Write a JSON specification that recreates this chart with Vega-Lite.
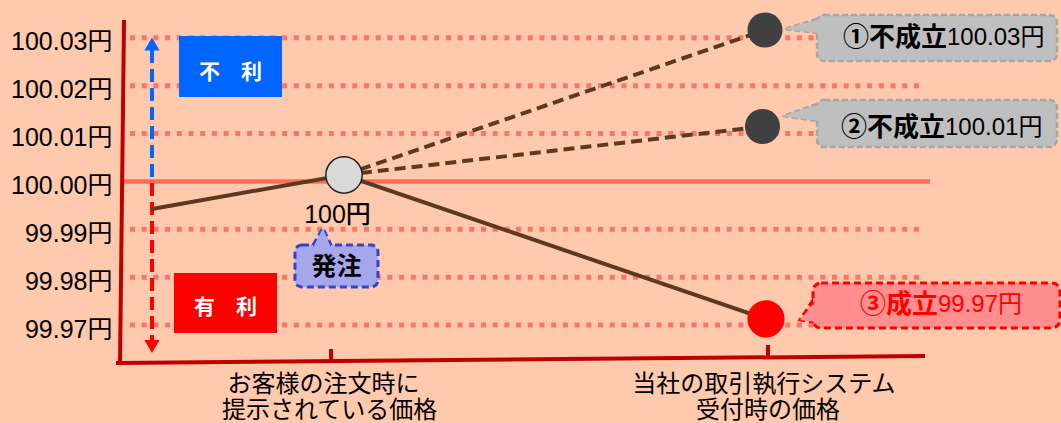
{
  "$schema": "https://vega.github.io/schema/vega-lite/v6.json",
  "width": 937,
  "height": 423,
  "autosize": {"type": "none"},
  "padding": {"left": 124, "top": 0, "right": 0, "bottom": 0},
  "background": "#FFC9AD",
  "config": {"view": {"stroke": null}},
  "encoding": {
    "x": {"field": "x", "type": "quantitative", "scale": {"domain": [0.5263, 2.6705], "nice": false, "zero": false}, "axis": null},
    "y": {"field": "p", "type": "quantitative", "scale": {"domain": [99.94954, 100.03789], "nice": false, "zero": false},
      "axis": {"values": [99.97, 99.98, 99.99, 100, 100.01, 100.02, 100.03], "labelExpr": "format(datum.value,'.2f')+'円'", "title": null, "domain": false, "ticks": false, "grid": false, "labelFontSize": 25, "labelFont": "Liberation Sans, Noto Sans CJK JP", "labelColor": "#000000", "labelPadding": 12, "labelOffset": 4, "labelBaseline": "middle"}}
  },
  "layer": [
    {
      "data": {"values": [
        {"p": 100.03, "x": 0.54, "x2": 2.3524},
        {"p": 100.02, "x": 0.54, "x2": 2.3524},
        {"p": 100.01, "x": 0.54, "x2": 2.3524},
        {"p": 99.99, "x": 0.54, "x2": 2.3524},
        {"p": 99.98, "x": 0.54, "x2": 2.3524},
        {"p": 99.97, "x": 0.54, "x2": 2.3524}
      ]},
      "mark": {"type": "rule", "color": "#FF7466", "strokeWidth": 5, "strokeDash": [5, 6.7]},
      "encoding": {"x2": {"field": "x2"}}
    },
    {
      "data": {"values": [{"p": 100.0, "x": 0.5263, "x2": 2.3707}]},
      "mark": {"type": "rule", "color": "#FF6B5B", "strokeWidth": 4.5},
      "encoding": {"x2": {"field": "x2"}}
    },
    {
      "data": {"values": [
        {"g": "y", "x": 0.5263, "p": 100.0333},
        {"g": "y", "x": 0.5172, "p": 99.96207},
        {"g": "x", "x": 0.5126, "p": 99.96207},
        {"g": "x", "x": 2.3547, "p": 99.96354}
      ]},
      "mark": {"type": "line", "color": "#C00000", "strokeWidth": 4, "strokeCap": "square"},
      "encoding": {"detail": {"field": "g"}}
    },
    {
      "data": {"values": [
        {"x": 1.0, "p": 99.965, "p2": 99.96228},
        {"x": 2.0, "p": 99.96584, "p2": 99.96333}
      ]},
      "mark": {"type": "rule", "color": "#C00000", "strokeWidth": 4},
      "encoding": {"y2": {"field": "p2"}}
    },
    {
      "data": {"values": [{"x": 0.5904, "p": 100.02745, "p2": 100.0005}]},
      "mark": {"type": "rule", "color": "#0066FF", "strokeWidth": 4, "strokeDash": [13, 6]},
      "encoding": {"y2": {"field": "p2"}}
    },
    {
      "data": {"values": [{"x": 0.5904, "p": 99.99967, "p2": 99.96688}]},
      "mark": {"type": "rule", "color": "#FF0000", "strokeWidth": 4, "strokeDash": [13, 6]},
      "encoding": {"y2": {"field": "p2"}}
    },
    {
      "data": {"values": [{"x": 0.5904, "p": 100.0287}]},
      "mark": {"type": "point", "shape": "triangle-up", "filled": true, "fill": "#0066FF", "size": 230, "opacity": 1, "strokeWidth": 0}
    },
    {
      "data": {"values": [{"x": 0.5904, "p": 99.96552}]},
      "mark": {"type": "point", "shape": "triangle-down", "filled": true, "fill": "#FF0000", "size": 230, "opacity": 1, "strokeWidth": 0}
    },
    {
      "data": {"values": [{"x": 0.6522, "x2": 0.8879, "p": 100.03037, "p2": 100.01763}]},
      "mark": {"type": "rect", "fill": "#0066FF"},
      "encoding": {"x2": {"field": "x2"}, "y2": {"field": "p2"}}
    },
    {
      "data": {"values": [{"x": 0.6407, "x2": 0.8764, "p": 99.98087, "p2": 99.96834}]},
      "mark": {"type": "rect", "fill": "#FF0000"},
      "encoding": {"x2": {"field": "x2"}, "y2": {"field": "p2"}}
    },
    {
      "data": {"values": [
        {"t": "不　利", "x": 0.77, "p": 100.02264},
        {"t": "有　利", "x": 0.7586, "p": 99.97356}
      ]},
      "mark": {"type": "text", "font": "Noto Sans CJK JP", "fontWeight": "bold", "fontSize": 21, "fill": "#FFFFFF", "align": "center", "baseline": "middle"},
      "encoding": {"text": {"field": "t"}}
    },
    {
      "data": {"values": [
        {"x": 0.5904, "p": 99.99424},
        {"x": 1.0297, "p": 100.00134},
        {"x": 1.9954, "p": 99.97127}
      ]},
      "mark": {"type": "line", "color": "#5B3A1F", "strokeWidth": 4}
    },
    {
      "data": {"values": [
        {"id": 1, "x": 1.0297, "p": 100.00134},
        {"id": 1, "x": 1.9931, "p": 100.03162},
        {"id": 2, "x": 1.0297, "p": 100.00134},
        {"id": 2, "x": 1.9874, "p": 100.01147}
      ]},
      "mark": {"type": "line", "color": "#5B3A1F", "strokeWidth": 4, "strokeDash": [11, 6]},
      "encoding": {"detail": {"field": "id"}}
    },
    {
      "data": {"values": [{"x": 1.0297, "p": 100.00134}]},
      "mark": {"type": "point", "shape": "circle", "filled": true, "fill": "#D9D9D9", "stroke": "#262626", "strokeWidth": 1.5, "size": 1320, "opacity": 1}
    },
    {
      "data": {"values": [
        {"x": 1.9931, "p": 100.03162},
        {"x": 1.9874, "p": 100.01147}
      ]},
      "mark": {"type": "point", "shape": "circle", "filled": true, "fill": "#404040", "size": 1230, "opacity": 1, "strokeWidth": 0}
    },
    {
      "data": {"values": [{"x": 1.9954, "p": 99.97127}]},
      "mark": {"type": "point", "shape": "circle", "filled": true, "fill": "#FF0000", "size": 1385, "opacity": 1, "strokeWidth": 0}
    },
    {
      "data": {"values": [
        {"id": 1, "p": 100.03392, "x": 2.1121, "x2": 2.1121},
        {"id": 1, "p": 100.03183, "x": 2.0366, "x2": 2.1121},
        {"id": 1, "p": 100.031, "x": 2.1121, "x2": 2.1121},
        {"id": 2, "p": 100.01617, "x": 2.1121, "x2": 2.1121},
        {"id": 2, "p": 100.01366, "x": 2.0343, "x2": 2.1121},
        {"id": 2, "p": 100.01262, "x": 2.1121, "x2": 2.1121}
      ]},
      "mark": {"type": "area", "orient": "horizontal", "fill": "#BFBFBF", "stroke": "#A6A6A6", "strokeWidth": 2.5, "strokeDash": [6, 3], "opacity": 1, "fillOpacity": 1},
      "encoding": {"x2": {"field": "x2"}, "detail": {"field": "id"}}
    },
    {
      "data": {"values": [
        {"x": 2.1121, "x2": 2.6613, "p": 100.03476, "p2": 100.02515},
        {"x": 2.1121, "x2": 2.6613, "p": 100.017, "p2": 100.00719}
      ]},
      "mark": {"type": "rect", "fill": "#BFBFBF", "stroke": "#A6A6A6", "strokeWidth": 2.5, "strokeDash": [6, 3], "cornerRadius": 7},
      "encoding": {"x2": {"field": "x2"}, "y2": {"field": "p2"}}
    },
    {
      "data": {"values": [
        {"id": 1, "p": 100.03392, "x": 2.1213, "x2": 2.1213},
        {"id": 1, "p": 100.03183, "x": 2.0366, "x2": 2.1213},
        {"id": 1, "p": 100.031, "x": 2.1213, "x2": 2.1213},
        {"id": 2, "p": 100.01617, "x": 2.1213, "x2": 2.1213},
        {"id": 2, "p": 100.01366, "x": 2.0343, "x2": 2.1213},
        {"id": 2, "p": 100.01262, "x": 2.1213, "x2": 2.1213}
      ]},
      "mark": {"type": "area", "orient": "horizontal", "fill": "#BFBFBF", "opacity": 1, "fillOpacity": 1},
      "encoding": {"x2": {"field": "x2"}, "detail": {"field": "id"}}
    },
    {
      "data": {"values": [
        {"p": 99.97523, "x": 2.103, "x2": 2.103},
        {"p": 99.97106, "x": 2.0732, "x2": 2.103},
        {"p": 99.97064, "x": 2.103, "x2": 2.103}
      ]},
      "mark": {"type": "area", "orient": "horizontal", "fill": "#FF8F8F", "stroke": "#FF0000", "strokeWidth": 3, "strokeDash": [7, 4], "opacity": 1, "fillOpacity": 1},
      "encoding": {"x2": {"field": "x2"}}
    },
    {
      "data": {"values": [{"x": 2.103, "x2": 2.6682, "p": 99.97878, "p2": 99.96939}]},
      "mark": {"type": "rect", "fill": "#FF8F8F", "stroke": "#FF0000", "strokeWidth": 3, "strokeDash": [7, 4], "cornerRadius": 8},
      "encoding": {"x2": {"field": "x2"}, "y2": {"field": "p2"}}
    },
    {
      "data": {"values": [
        {"p": 99.97523, "x": 2.1121, "x2": 2.1121},
        {"p": 99.97106, "x": 2.0732, "x2": 2.1121},
        {"p": 99.97064, "x": 2.1121, "x2": 2.1121}
      ]},
      "mark": {"type": "area", "orient": "horizontal", "fill": "#FF8F8F", "opacity": 1, "fillOpacity": 1},
      "encoding": {"x2": {"field": "x2"}}
    },
    {
      "data": {"values": [
        {"x": 0.9588, "p": 99.98672, "p2": 99.98672},
        {"x": 0.9817, "p": 99.99027, "p2": 99.98672},
        {"x": 1.0, "p": 99.98672, "p2": 99.98672}
      ]},
      "mark": {"type": "area", "orient": "vertical", "fill": "#A6A6EC", "stroke": "#3344CC", "strokeWidth": 3, "strokeDash": [7, 4], "opacity": 1, "fillOpacity": 1},
      "encoding": {"y2": {"field": "p2"}}
    },
    {
      "data": {"values": [{"x": 0.9176, "x2": 1.1075, "p": 99.98672, "p2": 99.97795}]},
      "mark": {"type": "rect", "fill": "#A6A6EC", "stroke": "#3344CC", "strokeWidth": 3, "strokeDash": [7, 4], "cornerRadius": 7},
      "encoding": {"x2": {"field": "x2"}, "y2": {"field": "p2"}}
    },
    {
      "data": {"values": [
        {"x": 0.9588, "p": 99.98609, "p2": 99.98609},
        {"x": 0.9817, "p": 99.99027, "p2": 99.98609},
        {"x": 1.0, "p": 99.98609, "p2": 99.98609}
      ]},
      "mark": {"type": "area", "orient": "vertical", "fill": "#A6A6EC", "opacity": 1, "fillOpacity": 1},
      "encoding": {"y2": {"field": "p2"}}
    },
    {
      "data": {"values": [{"t": "100円", "x": 1.0149, "p": 99.99299}]},
      "mark": {"type": "text", "font": "Liberation Sans, Noto Sans CJK JP", "fontWeight": 500, "fontSize": 25, "fill": "#000000", "align": "center", "baseline": "middle"},
      "encoding": {"text": {"field": "t"}}
    },
    {
      "data": {"values": [{"t": "発注", "x": 1.0126, "p": 99.98213}]},
      "mark": {"type": "text", "font": "Noto Sans CJK JP", "fontWeight": "bold", "fontSize": 25, "fill": "#000000", "align": "center", "baseline": "middle"},
      "encoding": {"text": {"field": "t"}}
    },
    {
      "data": {"values": [
        {"t": "①不成立", "x": 2.4096, "p": 100.02995},
        {"t": "②不成立", "x": 2.405, "p": 100.01116}
      ]},
      "mark": {"type": "text", "font": "Noto Sans CJK JP", "fontWeight": "bold", "fontSize": 26, "fill": "#000000", "align": "right", "baseline": "middle"},
      "encoding": {"text": {"field": "t"}}
    },
    {
      "data": {"values": [
        {"t": "100.03円", "x": 2.4096, "p": 100.02995},
        {"t": "100.01円", "x": 2.405, "p": 100.01116}
      ]},
      "mark": {"type": "text", "font": "Liberation Sans, Noto Sans CJK JP", "fontSize": 24, "fill": "#000000", "align": "left", "baseline": "middle"},
      "encoding": {"text": {"field": "t"}}
    },
    {
      "data": {"values": [{"t": "③成立", "x": 2.389, "p": 99.97419}]},
      "mark": {"type": "text", "font": "Noto Sans CJK JP", "fontWeight": "bold", "fontSize": 26, "fill": "#FF0000", "align": "right", "baseline": "middle"},
      "encoding": {"text": {"field": "t"}}
    },
    {
      "data": {"values": [{"t": "99.97円", "x": 2.389, "p": 99.97419}]},
      "mark": {"type": "text", "font": "Liberation Sans, Noto Sans CJK JP", "fontSize": 24, "fill": "#FF0000", "align": "left", "baseline": "middle"},
      "encoding": {"text": {"field": "t"}}
    },
    {
      "data": {"values": [
        {"t": "お客様の注文時に", "x": 0.9828, "p": 99.95748},
        {"t": "提示されている価格", "x": 0.9966, "p": 99.95205},
        {"t": "当社の取引執行システム", "x": 1.9908, "p": 99.95748},
        {"t": "受付時の価格", "x": 2.0, "p": 99.95205}
      ]},
      "mark": {"type": "text", "font": "Noto Sans CJK JP", "fontSize": 24, "fill": "#000000", "align": "center", "baseline": "middle"},
      "encoding": {"text": {"field": "t"}}
    }
  ]
}
